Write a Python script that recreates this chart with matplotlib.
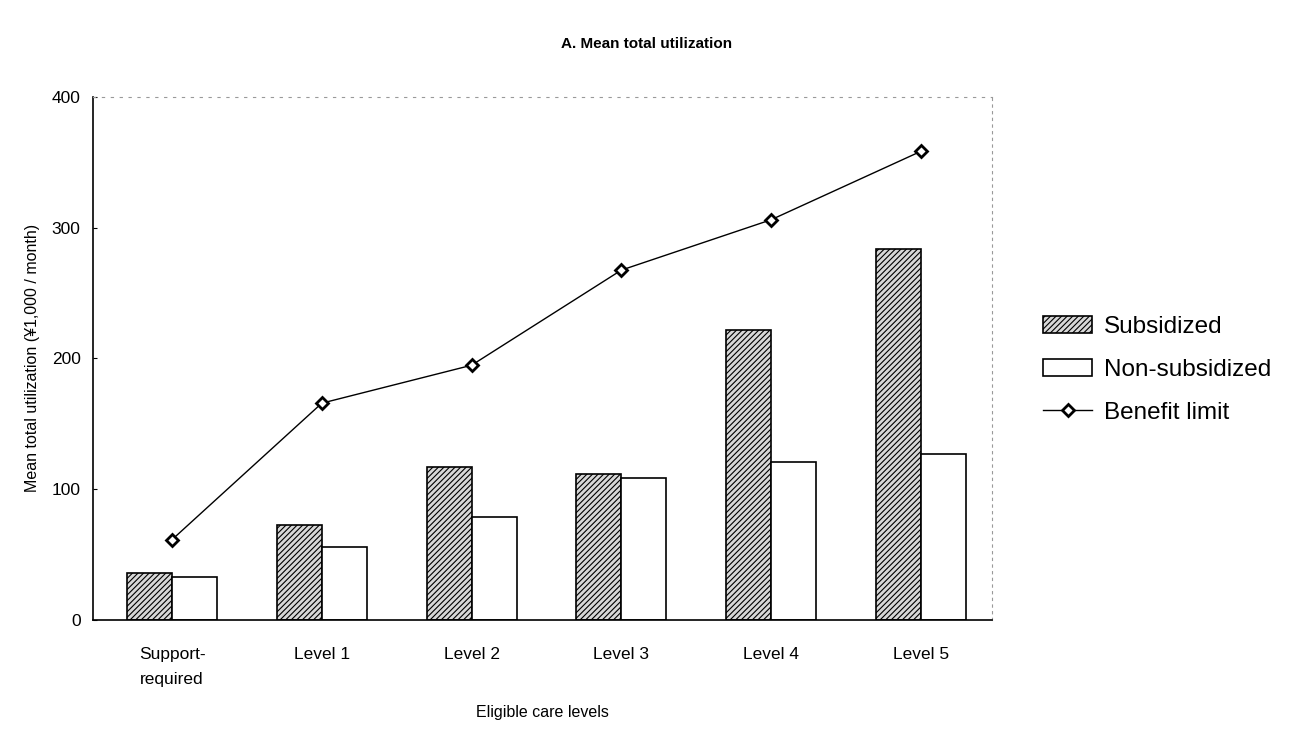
import matplotlib.pyplot as plt
import numpy as np

plt.rcParams['font.family'] = ['Liberation Sans', 'DejaVu Sans']
plt.rcParams['hatch.linewidth'] = 0.8

levels = ['Support-\nrequired', 'Level 1', 'Level 2', 'Level 3', 'Level 4', 'Level 5']
subsidized = [36, 73, 117, 112, 222, 284]
non_subsidized = [33, 56, 79, 109, 121, 127]
benefit_limit = [61.5, 165.8, 194.8, 267.5, 306.0, 358.3]

fig = plt.figure(figsize=(12.93, 7.33), dpi=100)
ax = fig.add_axes([0.072, 0.154, 0.695, 0.714])

x = np.arange(len(levels)) + 0.527
w = 0.3

ax.bar(x - w / 2, subsidized, w, facecolor='#d8d8d8', edgecolor='black',
       hatch='//////', linewidth=1.2, label='Subsidized')
ax.bar(x + w / 2, non_subsidized, w, facecolor='white', edgecolor='black',
       linewidth=1.2, label='Non-subsidized')
ax.plot(x, benefit_limit, color='black', linewidth=1, marker='D', markersize=6,
        markerfacecolor='white', markeredgecolor='black', markeredgewidth=2,
        label='Benefit limit')

ax.set_xlim(0, 6)
ax.set_ylim(0, 400)
ax.set_yticks([0, 100, 200, 300, 400])
ax.set_xticks(x)
ax.set_xticklabels(levels, fontsize=12.5, linespacing=1.9)
ax.tick_params(axis='x', length=0, pad=19)
ax.tick_params(axis='y', direction='in', length=3, labelsize=12.5, pad=9)

ax.spines['top'].set_linestyle((0, (2, 6)))
ax.spines['top'].set_color('#999999')
ax.spines['right'].set_linestyle((0, (2, 4)))
ax.spines['right'].set_color('#999999')
ax.spines['left'].set_linewidth(1.2)
ax.spines['bottom'].set_linewidth(1.2)

ax.set_ylabel('Mean total utilization (\u00a51,000 / month)', fontsize=11.5, labelpad=8)
ax.set_xlabel('Eligible care levels', fontsize=11.5, va='center')
ax.xaxis.set_label_coords(0.5, -0.176)

fig.suptitle('A. Mean total utilization', fontsize=11, fontweight='bold', y=0.95)

handles, labels = ax.get_legend_handles_labels()
order = [1, 2, 0]
fig.legend([handles[i] for i in order], [labels[i] for i in order],
           loc='center left', bbox_to_anchor=(0.79, 0.495), frameon=False,
           fontsize=17.5, handlelength=2.0, handleheight=0.7, labelspacing=0.85,
           handletextpad=0.5)

fig.savefig('out.png', dpi=100)
